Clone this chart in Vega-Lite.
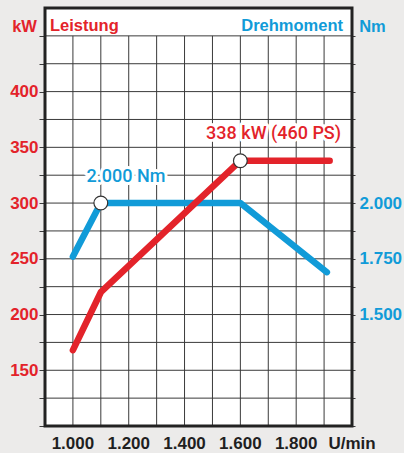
{
  "$schema": "https://vega.github.io/schema/vega-lite/v6.json",
  "width": 307,
  "height": 418,
  "autosize": "none",
  "padding": {"left": 45, "top": 8, "right": 52, "bottom": 27},
  "background": "#ecebea",
  "config": {
    "view": {"stroke": null, "fill": "white"},
    "font": "Liberation Sans"
  },
  "datasets": {
    "leistung": [
      {"rpm": 1000, "kw": 168},
      {"rpm": 1100, "kw": 220},
      {"rpm": 1600, "kw": 338},
      {"rpm": 1920, "kw": 338}
    ],
    "drehmoment": [
      {"rpm": 1000, "nm": 1760},
      {"rpm": 1100, "nm": 2000},
      {"rpm": 1600, "nm": 2000},
      {"rpm": 1910, "nm": 1690}
    ],
    "rpmGrid": [
      {"rpm": 1000}, {"rpm": 1100}, {"rpm": 1200}, {"rpm": 1300}, {"rpm": 1400},
      {"rpm": 1500}, {"rpm": 1600}, {"rpm": 1700}, {"rpm": 1800}, {"rpm": 1900}
    ],
    "kwGrid": [
      {"kw": 125}, {"kw": 150}, {"kw": 175}, {"kw": 200}, {"kw": 225}, {"kw": 250}, {"kw": 275},
      {"kw": 300}, {"kw": 325}, {"kw": 350}, {"kw": 375}, {"kw": 400}, {"kw": 425}, {"kw": 450}
    ],
    "rpmLabels": [
      {"rpm": 1000, "label": "1.000"},
      {"rpm": 1200, "label": "1.200"},
      {"rpm": 1400, "label": "1.400"},
      {"rpm": 1600, "label": "1.600"},
      {"rpm": 1800, "label": "1.800"},
      {"rpm": 2000, "label": "U/min"}
    ]
  },
  "layer": [
    {
      "data": {"name": "rpmGrid"},
      "mark": {"type": "rule", "stroke": "#3a3a3a", "strokeWidth": 1},
      "encoding": {
        "x": {"field": "rpm", "type": "quantitative", "scale": {"domain": [900, 2000], "nice": false, "zero": false}, "axis": null},
        "y": {"datum": 100, "type": "quantitative", "scale": {"domain": [100, 475], "nice": false, "zero": false}, "axis": null},
        "y2": {"datum": 450}
      }
    },
    {
      "data": {"name": "kwGrid"},
      "mark": {"type": "rule", "stroke": "#3a3a3a", "strokeWidth": 1},
      "encoding": {
        "x": {"datum": 900, "type": "quantitative", "axis": null},
        "x2": {"datum": 2000},
        "y": {"field": "kw", "type": "quantitative", "scale": {"domain": [100, 475], "nice": false, "zero": false}, "axis": null}
      }
    },
    {
      "data": {"name": "rpmLabels"},
      "mark": {"type": "text", "fontSize": 17, "fontWeight": "bold", "fill": "#1f1f1f", "align": "center", "baseline": "middle", "dy": 18},
      "encoding": {
        "x": {"field": "rpm", "type": "quantitative", "axis": null},
        "y": {"datum": 100, "type": "quantitative", "scale": {"domain": [100, 475], "nice": false, "zero": false}, "axis": null},
        "text": {"field": "label"}
      }
    },
    {
      "data": {"name": "drehmoment"},
      "mark": {"type": "line", "stroke": "#119bd8", "strokeWidth": 6.5, "strokeCap": "round", "strokeJoin": "round"},
      "encoding": {
        "x": {"field": "rpm", "type": "quantitative", "axis": null},
        "y": {
          "field": "nm",
          "type": "quantitative",
          "scale": {"domain": [1000, 2875], "nice": false, "zero": false},
          "axis": {
            "orient": "right",
            "values": [1000, 1125, 1250, 1375, 1500, 1625, 1750, 1875, 2000, 2125, 2250, 2375, 2500, 2625, 2750],
            "labelExpr": "datum.value == 1500 || datum.value == 1750 || datum.value == 2000 ? replace(format(datum.value, ','), ',', '.') : ''",
            "labelOverlap": false,
            "labelFontSize": 17,
            "labelFontWeight": "bold",
            "labelColor": "#119bd8",
            "labelPadding": 4,
            "tickSize": 3,
            "tickColor": "#3a3a3a",
            "domain": false,
            "grid": false,
            "title": "Nm",
            "titleAngle": 0,
            "titleX": 20,
            "titleY": 23,
            "titleAlign": "center",
            "titleBaseline": "alphabetic",
            "titleColor": "#119bd8",
            "titleFontSize": 16.5,
            "titleFontWeight": "bold"
          }
        }
      }
    },
    {
      "data": {"name": "leistung"},
      "mark": {"type": "line", "stroke": "#e3232a", "strokeWidth": 6.5, "strokeCap": "round", "strokeJoin": "round"},
      "encoding": {
        "x": {"field": "rpm", "type": "quantitative", "axis": null},
        "y": {
          "field": "kw",
          "type": "quantitative",
          "scale": {"domain": [100, 475], "nice": false, "zero": false},
          "axis": {
            "orient": "left",
            "values": [100, 125, 150, 175, 200, 225, 250, 275, 300, 325, 350, 375, 400, 425, 450],
            "labelExpr": "datum.value % 50 == 0 && datum.value >= 150 && datum.value <= 400 ? datum.label : ''",
            "labelOverlap": false,
            "labelFontSize": 17,
            "labelFontWeight": "bold",
            "labelColor": "#e3232a",
            "labelPadding": 1,
            "tickSize": 6,
            "tickColor": "#3a3a3a",
            "domain": false,
            "grid": false,
            "title": "kW",
            "titleAngle": 0,
            "titleX": -21,
            "titleY": 23,
            "titleAlign": "center",
            "titleBaseline": "alphabetic",
            "titleColor": "#e3232a",
            "titleFontSize": 16.5,
            "titleFontWeight": "bold"
          }
        }
      }
    },
    {
      "data": {"name": "leistung"},
      "transform": [{"filter": "datum.rpm == 1600"}],
      "mark": {"type": "point", "filled": true, "fill": "white", "stroke": "#333333", "strokeWidth": 1.2, "size": 190, "opacity": 1},
      "encoding": {
        "x": {"field": "rpm", "type": "quantitative", "axis": null},
        "y": {"field": "kw", "type": "quantitative", "scale": {"domain": [100, 475], "nice": false, "zero": false}, "axis": null}
      }
    },
    {
      "data": {"name": "drehmoment"},
      "transform": [{"filter": "datum.rpm == 1100"}],
      "mark": {"type": "point", "filled": true, "fill": "white", "stroke": "#333333", "strokeWidth": 1.2, "size": 190, "opacity": 1},
      "encoding": {
        "x": {"field": "rpm", "type": "quantitative", "axis": null},
        "y": {"field": "nm", "type": "quantitative", "scale": {"domain": [1000, 2875], "nice": false, "zero": false}, "axis": null}
      }
    },
    {
      "data": {"values": [{"text": "338 kW (460 PS)"}]},
      "mark": {"type": "text", "font": "Roboto", "fontWeight": 500, "fontSize": 18, "fill": "white", "stroke": "white", "strokeWidth": 6, "strokeJoin": "round", "align": "center", "baseline": "middle"},
      "encoding": {
        "x": {"datum": 1719, "type": "quantitative", "axis": null},
        "y": {"datum": 362, "type": "quantitative", "scale": {"domain": [100, 475], "nice": false, "zero": false}, "axis": null},
        "text": {"field": "text"}
      }
    },
    {
      "data": {"values": [{"text": "338 kW (460 PS)"}]},
      "mark": {"type": "text", "font": "Roboto", "fontWeight": 500, "fontSize": 18, "fill": "#e3232a", "align": "center", "baseline": "middle"},
      "encoding": {
        "x": {"datum": 1719, "type": "quantitative", "axis": null},
        "y": {"datum": 362, "type": "quantitative", "scale": {"domain": [100, 475], "nice": false, "zero": false}, "axis": null},
        "text": {"field": "text"}
      }
    },
    {
      "data": {"values": [{"text": "2.000 Nm"}]},
      "mark": {"type": "text", "font": "Roboto", "fontWeight": 500, "fontSize": 18, "fill": "white", "stroke": "white", "strokeWidth": 6, "strokeJoin": "round", "align": "center", "baseline": "middle"},
      "encoding": {
        "x": {"datum": 1190, "type": "quantitative", "axis": null},
        "y": {"datum": 2118, "type": "quantitative", "scale": {"domain": [1000, 2875], "nice": false, "zero": false}, "axis": null},
        "text": {"field": "text"}
      }
    },
    {
      "data": {"values": [{"text": "2.000 Nm"}]},
      "mark": {"type": "text", "font": "Roboto", "fontWeight": 500, "fontSize": 18, "fill": "#119bd8", "align": "center", "baseline": "middle"},
      "encoding": {
        "x": {"datum": 1190, "type": "quantitative", "axis": null},
        "y": {"datum": 2118, "type": "quantitative", "scale": {"domain": [1000, 2875], "nice": false, "zero": false}, "axis": null},
        "text": {"field": "text"}
      }
    },
    {
      "data": {"values": [{"text": "Leistung"}]},
      "mark": {"type": "text", "fontSize": 16.5, "fontWeight": "bold", "fill": "#e3232a", "align": "left", "baseline": "alphabetic", "dx": 5},
      "encoding": {
        "x": {"datum": 900, "type": "quantitative", "axis": null},
        "y": {"datum": 454.4, "type": "quantitative", "scale": {"domain": [100, 475], "nice": false, "zero": false}, "axis": null},
        "text": {"field": "text"}
      }
    },
    {
      "data": {"values": [{"text": "Drehmoment"}]},
      "mark": {"type": "text", "fontSize": 16.5, "fontWeight": "bold", "fill": "#119bd8", "align": "right", "baseline": "alphabetic", "dx": -9},
      "encoding": {
        "x": {"datum": 2000, "type": "quantitative", "axis": null},
        "y": {"datum": 454.4, "type": "quantitative", "scale": {"domain": [100, 475], "nice": false, "zero": false}, "axis": null},
        "text": {"field": "text"}
      }
    },
    {
      "data": {"values": [{"band": "frame"}]},
      "mark": {"type": "rect", "fill": "transparent", "stroke": "#222222", "strokeWidth": 3},
      "encoding": {
        "x": {"datum": 900, "type": "quantitative", "axis": null},
        "x2": {"datum": 2000},
        "y": {"datum": 100, "type": "quantitative", "scale": {"domain": [100, 475], "nice": false, "zero": false}, "axis": null},
        "y2": {"datum": 475}
      }
    }
  ],
  "resolve": {"scale": {"y": "independent"}}
}
